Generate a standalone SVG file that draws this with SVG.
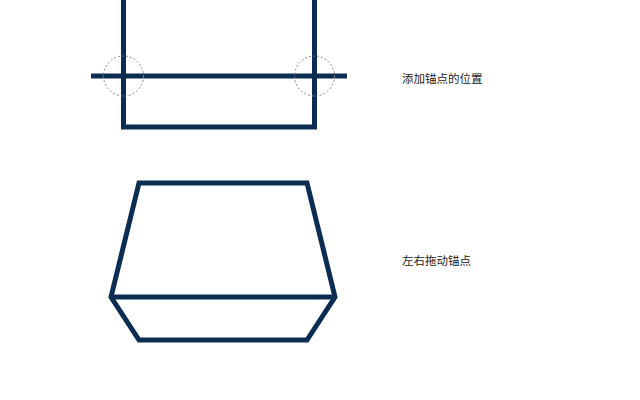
<svg xmlns="http://www.w3.org/2000/svg" width="640" height="400" viewBox="0 0 640 400">
<style>
.ln{fill:none;stroke:#0c2d52;stroke-width:5}
.anchor{fill:none;stroke:#888;stroke-width:1;stroke-dasharray:2 2}
.lbl{font-family:"Noto Sans CJK SC","Noto Sans",sans-serif;font-size:11.5px;fill:#222}
</style>
<rect width="640" height="400" fill="#fff"/>
<g id="shape-top">
<polyline class="ln" points="123.5,0 123.5,127 314.5,127 314.5,0"/>
<line class="ln" x1="91" y1="76" x2="347" y2="76"/>
</g>
<g id="anchors">
<circle class="anchor" cx="123.5" cy="76" r="20"/>
<circle class="anchor" cx="314.5" cy="76" r="20"/>
</g>
<g id="shape-bottom">
<polygon class="ln" points="139,183 307,183 335,297 307,340 139,340 111,297"/>
<line class="ln" x1="111" y1="297" x2="335" y2="297"/>
</g>
<g id="label-1"><text class="lbl" x="402" y="83">添加锚点的位置</text></g>
<g id="label-2"><text class="lbl" x="402" y="265">左右拖动锚点</text></g>
</svg>
